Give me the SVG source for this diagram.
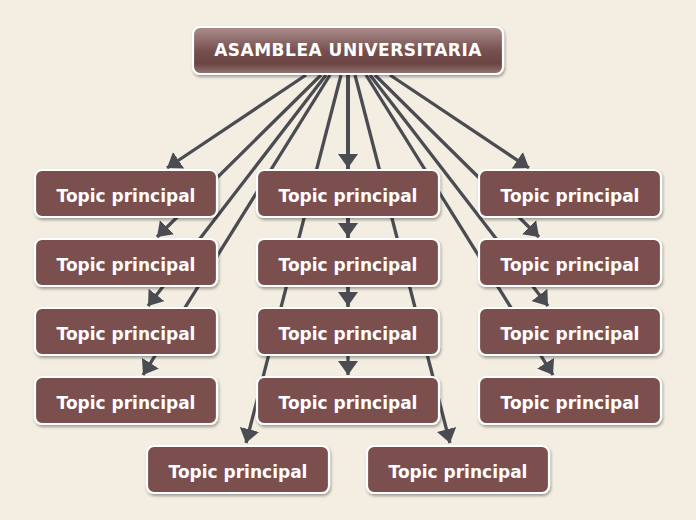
<svg xmlns="http://www.w3.org/2000/svg" width="696" height="520" viewBox="0 0 696 520">
<style>
.bg{fill:#f3ede2}
.conn line{stroke:#4b4c52;stroke-width:3.3;fill:none;marker-end:url(#arr)}
.node rect{fill:#7b5050;stroke:#ffffff;stroke-width:2.2;filter:url(#sh)}
.node text{font-family:"DejaVu Sans",Verdana,sans-serif;font-weight:bold;font-size:17px;fill:#ffffff;text-anchor:middle}
#root rect{fill:url(#rg)}
#root text{font-size:17px;letter-spacing:0.5px}
</style>
<defs>
<marker id="arr" viewBox="0 0 14 20" refX="14" refY="10" markerWidth="14" markerHeight="20" markerUnits="userSpaceOnUse" orient="auto">
<path d="M0,0 L14,10 L0,20 z" fill="#4b4c52"/>
</marker>
<linearGradient id="rg" x1="0" y1="0" x2="0" y2="1">
<stop offset="0" stop-color="#ab8f8d"/>
<stop offset="0.5" stop-color="#775150"/>
<stop offset="0.78" stop-color="#6a4442"/>
<stop offset="1" stop-color="#957876"/>
</linearGradient>
<filter id="sh" x="-10%" y="-20%" width="120%" height="150%">
<feDropShadow dx="1" dy="2" stdDeviation="1.5" flood-color="#000000" flood-opacity="0.35"/>
</filter>
</defs>
<rect class="bg" x="0" y="0" width="696" height="520"/>
<g id="connectors" class="conn">
<line x1="306" y1="75" x2="167" y2="168"/>
<line x1="321" y1="75" x2="157" y2="237"/>
<line x1="326" y1="75" x2="148" y2="306"/>
<line x1="330" y1="75" x2="143" y2="375"/>
<line x1="348" y1="75" x2="348" y2="168"/>
<line x1="348" y1="75" x2="348" y2="237"/>
<line x1="348" y1="75" x2="348" y2="306"/>
<line x1="348" y1="75" x2="348" y2="375"/>
<line x1="341" y1="75" x2="246" y2="443"/>
<line x1="355" y1="75" x2="450" y2="443"/>
<line x1="390" y1="75" x2="529" y2="168"/>
<line x1="375" y1="75" x2="539" y2="237"/>
<line x1="370" y1="75" x2="548" y2="306"/>
<line x1="366" y1="75" x2="553" y2="375"/>
</g>
<g id="root" class="node"><rect x="193" y="27" width="310" height="47" rx="7"/><text x="348" y="56">ASAMBLEA UNIVERSITARIA</text></g>
<g id="n1" class="node"><rect x="35" y="170" width="182" height="47" rx="7"/><text x="126" y="202">Topic principal</text></g>
<g id="n2" class="node"><rect x="35" y="239" width="182" height="47" rx="7"/><text x="126" y="271">Topic principal</text></g>
<g id="n3" class="node"><rect x="35" y="308" width="182" height="47" rx="7"/><text x="126" y="340">Topic principal</text></g>
<g id="n4" class="node"><rect x="35" y="377" width="182" height="47" rx="7"/><text x="126" y="409">Topic principal</text></g>
<g id="n5" class="node"><rect x="257" y="170" width="182" height="47" rx="7"/><text x="348" y="202">Topic principal</text></g>
<g id="n6" class="node"><rect x="257" y="239" width="182" height="47" rx="7"/><text x="348" y="271">Topic principal</text></g>
<g id="n7" class="node"><rect x="257" y="308" width="182" height="47" rx="7"/><text x="348" y="340">Topic principal</text></g>
<g id="n8" class="node"><rect x="257" y="377" width="182" height="47" rx="7"/><text x="348" y="409">Topic principal</text></g>
<g id="n9" class="node"><rect x="479" y="170" width="182" height="47" rx="7"/><text x="570" y="202">Topic principal</text></g>
<g id="n10" class="node"><rect x="479" y="239" width="182" height="47" rx="7"/><text x="570" y="271">Topic principal</text></g>
<g id="n11" class="node"><rect x="479" y="308" width="182" height="47" rx="7"/><text x="570" y="340">Topic principal</text></g>
<g id="n12" class="node"><rect x="479" y="377" width="182" height="47" rx="7"/><text x="570" y="409">Topic principal</text></g>
<g id="n13" class="node"><rect x="147" y="446" width="182" height="47" rx="7"/><text x="238" y="478">Topic principal</text></g>
<g id="n14" class="node"><rect x="367" y="446" width="182" height="47" rx="7"/><text x="458" y="478">Topic principal</text></g>
</svg>
